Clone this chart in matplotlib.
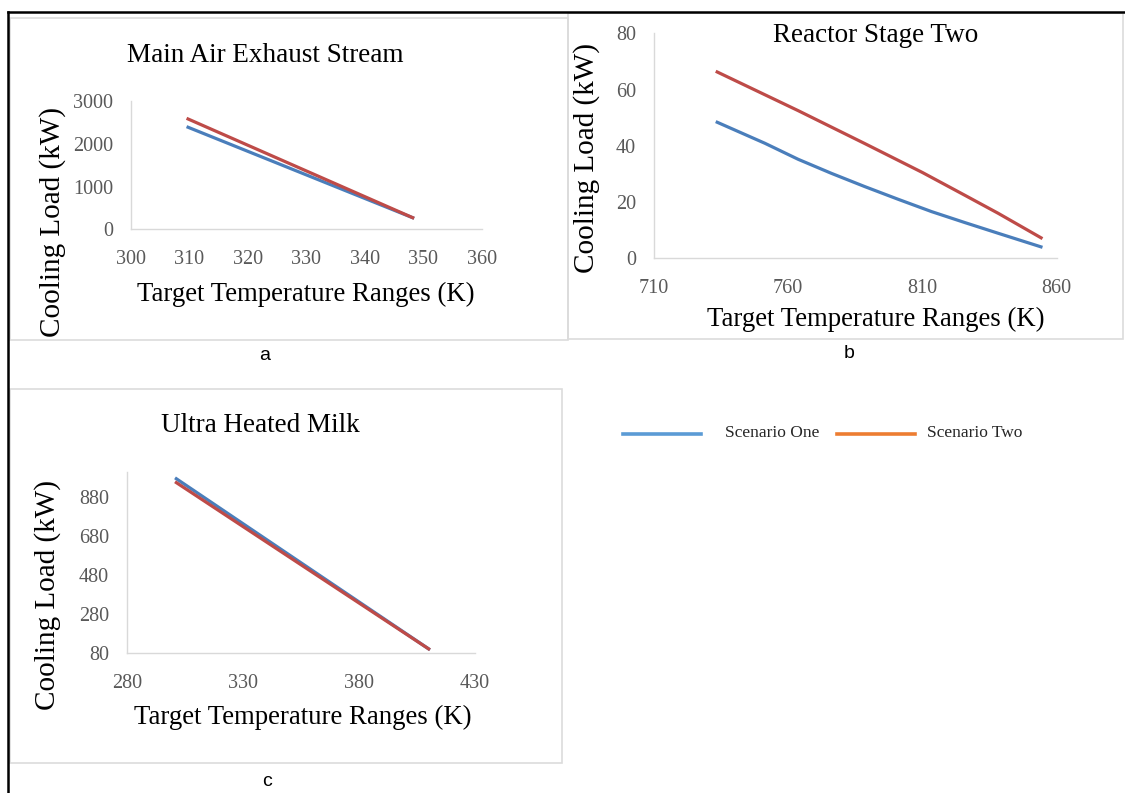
import matplotlib
matplotlib.use("Agg")
import matplotlib.pyplot as plt
from matplotlib.lines import Line2D
from matplotlib.patches import Rectangle

# ---------------- data ----------------
temp_a = [309.5, 348.4]
s1_a = [2400, 257]
s2_a = [2595, 257]

temp_b1 = [733.0, 751.3, 763.7, 776.1, 788.5, 800.9, 813.4, 825.8, 838.2, 854.7]
s1_b = [48.6, 40.9, 35.2, 30.2, 25.5, 21.0, 16.6, 12.7, 8.9, 3.9]
temp_b2 = [733.0, 763.7, 788.5, 810.0, 826.0, 838.2, 854.7]
s2_b = [66.5, 52.5, 40.8, 30.5, 22.3, 16.0, 7.0]

temp_c = [300.7, 410.6]
s1_c = [977, 95]
s2_c = [957, 95]

titles = ["Main Air Exhaust Stream", "Reactor Stage Two", "Ultra Heated Milk"]
series_names = ["Scenario One", "Scenario Two"]
panel_letters = ["a", "b", "c"]
xticks_a = [300, 310, 320, 330, 340, 350, 360]
yticks_a = [0, 1000, 2000, 3000]
xticks_b = [710, 760, 810, 860]
yticks_b = [0, 20, 40, 60, 80]
xticks_c = [280, 330, 380, 430]
yticks_c = [80, 280, 480, 680, 880]

W, H = 1125, 793
fig = plt.figure(figsize=(W / 100, H / 100), dpi=100)
fig.patch.set_facecolor("white")

SERIF = "Liberation Serif"
BLUE = "#4A7EBB"
RED = "#BE4B48"
LEG_BLUE = "#5B9BD5"
LEG_ORANGE = "#ED7D31"
SPINE = "#D9D9D9"
TICKC = "#595959"


def rect(x0, y0, x1, y1):
    return [x0 / W, 1 - y1 / H, (x1 - x0) / W, (y1 - y0) / H]


def fx(x):
    return x / W


def fy(y):
    return 1 - y / H


# panel boxes
for (x0, y0, x1, y1) in [(10, 18, 568, 340), (568, 13, 1123, 339), (10, 389, 562, 763)]:
    fig.add_artist(Rectangle((fx(x0), fy(y1)), fx(x1) - fx(x0), fy(y0) - fy(y1),
                             transform=fig.transFigure, fill=False,
                             edgecolor="#DCDCDC", linewidth=1.2))

# outer black frame (top & left)
fig.add_artist(Line2D([fx(8), fx(1125)], [fy(12), fy(12)], transform=fig.transFigure,
                      color="black", linewidth=1.8))
fig.add_artist(Line2D([fx(8), fx(8)], [fy(12), fy(793)], transform=fig.transFigure,
                      color="black", linewidth=1.8))


def style_axes(ax, xt, yt, xlim, ylim):
    ax.set_xlim(*xlim)
    ax.set_ylim(*ylim)
    ax.set_xticks(xt)
    ax.set_yticks(yt)
    for s in ["top", "right"]:
        ax.spines[s].set_visible(False)
    for s in ["left", "bottom"]:
        ax.spines[s].set_color(SPINE)
        ax.spines[s].set_linewidth(1.0)
    ax.tick_params(length=0, labelcolor=TICKC, labelsize=14.5)
    ax.tick_params(axis="x", pad=15)
    ax.tick_params(axis="y", pad=13)
    for lab in ax.get_xticklabels() + ax.get_yticklabels():
        lab.set_fontfamily(SERIF)
    ax.patch.set_alpha(0)


LW = 2.3
# panel a
ax_a = fig.add_axes(rect(131, 101, 482, 229.3))
ax_a.plot(temp_a, s1_a, color=BLUE, lw=LW, solid_capstyle="butt")
ax_a.plot(temp_a, s2_a, color=RED, lw=LW, solid_capstyle="butt")
style_axes(ax_a, xticks_a, yticks_a, (300, 360), (0, 3000))

# panel b
ax_b = fig.add_axes(rect(654, 33.3, 1056.7, 258.3))
ax_b.plot(temp_b1, s1_b, color=BLUE, lw=LW, solid_capstyle="butt", solid_joinstyle="round")
ax_b.plot(temp_b2, s2_b, color=RED, lw=LW, solid_capstyle="butt", solid_joinstyle="round")
style_axes(ax_b, xticks_b, yticks_b, (710, 860), (0, 80))

# panel c
ax_c = fig.add_axes(rect(127, 472, 475, 652.7))
ax_c.plot(temp_c, s1_c, color=BLUE, lw=LW, solid_capstyle="butt")
ax_c.plot(temp_c, s2_c, color=RED, lw=LW, solid_capstyle="butt")
style_axes(ax_c, xticks_c, yticks_c, (280, 430), (80, 1007))

# titles
TS = 19.5
fig.text(fx(265), fy(55), titles[0], family=SERIF, fontsize=TS, ha="center", va="center")
fig.text(fx(876), fy(36), titles[1], family=SERIF, fontsize=TS, ha="center", va="center")
fig.text(fx(260), fy(425), titles[2], family=SERIF, fontsize=TS, ha="center", va="center")

# axis labels
xl = "Target Temperature Ranges (K)"
yl = "Cooling Load (kW)"
XS, YS = 19.3, 21
fig.text(fx(306), fy(294), xl, family=SERIF, fontsize=XS, ha="center", va="center")
fig.text(fx(876), fy(319), xl, family=SERIF, fontsize=XS, ha="center", va="center")
fig.text(fx(303), fy(717), xl, family=SERIF, fontsize=XS, ha="center", va="center")
fig.text(fx(53), fy(222), yl, family=SERIF, fontsize=YS, ha="center", va="center", rotation=90)
fig.text(fx(587), fy(158), yl, family=SERIF, fontsize=YS, ha="center", va="center", rotation=90)
fig.text(fx(48), fy(595), yl, family=SERIF, fontsize=YS, ha="center", va="center", rotation=90)

# panel letters
fig.text(fx(265), fy(355), panel_letters[0], family="Liberation Sans", fontsize=14, ha="center", va="center")
fig.text(fx(849), fy(353), panel_letters[1], family="Liberation Sans", fontsize=14, ha="center", va="center")
fig.text(fx(267), fy(781), panel_letters[2], family="Liberation Sans", fontsize=14, ha="center", va="center")

# legend
fig.add_artist(Line2D([fx(623), fx(701)], [fy(434), fy(434)], transform=fig.transFigure,
                      color=LEG_BLUE, lw=2.6))
fig.text(fx(725), fy(433), series_names[0], family=SERIF, fontsize=12.5, ha="left", va="center",
         color="#262626")
fig.add_artist(Line2D([fx(837), fx(915)], [fy(434), fy(434)], transform=fig.transFigure,
                      color=LEG_ORANGE, lw=2.6))
fig.text(fx(927), fy(433), series_names[1], family=SERIF, fontsize=12.5, ha="left", va="center",
         color="#262626")

fig.savefig("out.png", dpi=100, facecolor="white")
